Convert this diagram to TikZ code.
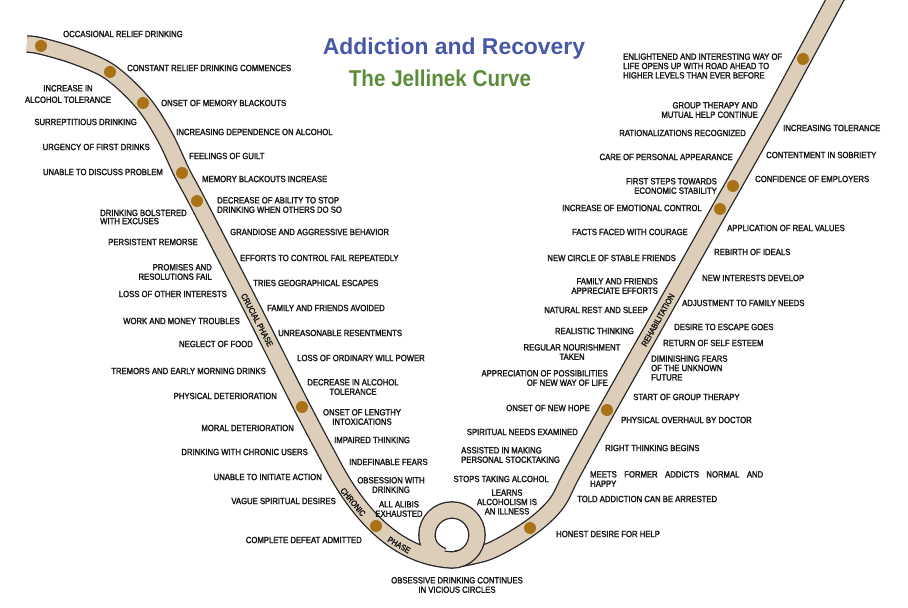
\documentclass[tikz,border=0pt]{standalone}
\usepackage{fontspec}
\newfontfamily\labfont{Liberation Sans}[FakeStretch=0.86,FakeBold=2]
\newfontfamily\titlefont{Liberation Sans}
\newfontfamily\titlenarrow{Liberation Sans}[FakeStretch=0.9]
\definecolor{band}{RGB}{221,206,186}
\definecolor{dotc}{RGB}{168,114,22}
\definecolor{ttlblue}{RGB}{72,88,168}
\definecolor{ttlgreen}{RGB}{92,140,58}
\definecolor{txt}{RGB}{22,22,22}
\begin{document}
\begin{tikzpicture}[x=1bp,y=-1bp,
  lab/.style={font=\labfont\fontsize{9}{9.4}\selectfont, text=txt, inner sep=0pt},
  Le/.style={lab,anchor=east,align=right},
  Ri/.style={lab,anchor=west,align=left},
  Ce/.style={lab,align=center},
  road/.style={line width=1.3bp, draw=black!85, double=band, double distance=15bp},
  dot/.style={circle, fill=dotc, minimum size=12bp, inner sep=0pt},
  phase/.style={lab, font=\labfont\fontsize{8.5}{9}\selectfont}]
\useasboundingbox (0,0) rectangle (908,608);
\clip (0,0) rectangle (908,608);
% dot positions
\coordinate (p1) at (41,46);
\coordinate (p2) at (110,72);
\coordinate (p3) at (143,103);
\coordinate (p4) at (182,173);
\coordinate (p5) at (197,201);
\coordinate (p6) at (302,407);
\coordinate (p7) at (376,526);
\coordinate (p8) at (530,528);
\coordinate (p9) at (607,410);
\coordinate (p10) at (720,209);
\coordinate (p11) at (733,186);
\coordinate (p12) at (803,59);
% right arm (under the loop)
\draw[road] plot[smooth, tension=0.55] coordinates {(456,559) (490,551) (p8) (556,504) (572,474) (p9) (660,316) (p10) (p11) (770,120) (p12) (838,-6)};
% left arm and loop
\draw[road] plot[smooth, tension=0.55] coordinates {(27,44) (p1) (75,56) (p2) (p3) (165,137) (p4) (p5) (250,304) (p6) (330,460)}
  .. controls (352,503) and (390,557) .. (452,560)
  .. controls (465.8,560) and (477,548.8) .. (477,535)
  .. controls (477,521.2) and (465.8,510) .. (452,510)
  .. controls (438.2,510) and (427,521.2) .. (427,535)
  .. controls (427,545) and (432,551) .. (442,556);
% dots
\foreach \i in {1,...,12} \node[dot] (d\i) at (p\i) {};
% phase labels
\node[phase, rotate=-62] (ph1) at (257,320) {CRUCIAL PHASE};
\node[phase, rotate=-50] (ph2) at (353,502) {CHRONIC};
\node[phase, rotate=-30] (ph3) at (399,545) {PHASE};
\node[phase, rotate=60.8] (ph4) at (658,320) {REHABILITATION};
% titles
\node[anchor=base, text=ttlblue, inner sep=0pt, font=\titlefont\bfseries\fontsize{23}{23}\selectfont] (t1) at (454,55) {Addiction and Recovery};
\node[anchor=base, text=ttlgreen, inner sep=0pt, font=\titlenarrow\bfseries\fontsize{23}{23}\selectfont] (t2) at (440,87) {The Jellinek Curve};
% left arm, right side
\node[Ri] (a1) at (63,34) {OCCASIONAL RELIEF DRINKING};
\node[Ri] (a2) at (127,68) {CONSTANT RELIEF DRINKING COMMENCES};
\node[Ri] (a3) at (161,103) {ONSET OF MEMORY BLACKOUTS};
\node[Ri] (a4) at (176,132) {INCREASING DEPENDENCE ON ALCOHOL};
\node[Ri] (a5) at (189,156) {FEELINGS OF GUILT};
\node[Ri] (a6) at (202,179) {MEMORY BLACKOUTS INCREASE};
\node[Ri] (a7) at (217,205) {DECREASE OF ABILITY TO STOP\\DRINKING WHEN OTHERS DO SO};
\node[Ri] (a8) at (230,232) {GRANDIOSE AND AGGRESSIVE BEHAVIOR};
\node[Ri] (a9) at (240,258) {EFFORTS TO CONTROL FAIL REPEATEDLY};
\node[Ri] (a10) at (253,283) {TRIES GEOGRAPHICAL ESCAPES};
\node[Ri] (a11) at (267,308) {FAMILY AND FRIENDS AVOIDED};
\node[Ri] (a12) at (278,333) {UNREASONABLE RESENTMENTS};
\node[Ri] (a13) at (297,358) {LOSS OF ORDINARY WILL POWER};
\node[Ce] (a14) at (353,387) {DECREASE IN ALCOHOL\\TOLERANCE};
\node[Ce] (a15) at (362,417) {ONSET OF LENGTHY\\INTOXICATIONS};
\node[Ri] (a16) at (334,440) {IMPAIRED THINKING};
\node[Ri] (a17) at (349,462) {INDEFINABLE FEARS};
\node[Ce] (a18) at (391,485) {OBSESSION WITH\\DRINKING};
\node[Ce] (a19) at (399,509) {ALL ALIBIS\\EXHAUSTED};
\node[Ce] (a20) at (457,585) {OBSESSIVE DRINKING CONTINUES\\IN VICIOUS CIRCLES};
% left arm, left side
\node[Ce, font=\labfont\fontsize{9}{11.5}\selectfont] (b1) at (68,94) {INCREASE IN\\ALCOHOL TOLERANCE};
\node[Le] (b2) at (137,122) {SURREPTITIOUS DRINKING};
\node[Le] (b3) at (150,147) {URGENCY OF FIRST DRINKS};
\node[Le] (b4) at (163,172) {UNABLE TO DISCUSS PROBLEM};
\node[Ri, font=\labfont\fontsize{9}{8.2}\selectfont] (b5) at (100,217) {DRINKING BOLSTERED\\WITH EXCUSES};
\node[Le] (b6) at (198,242) {PERSISTENT REMORSE};
\node[Le] (b7) at (212,272) {PROMISES AND\\RESOLUTIONS FAIL};
\node[Le] (b8) at (227,294) {LOSS OF OTHER INTERESTS};
\node[Le] (b9) at (240,321) {WORK AND MONEY TROUBLES};
\node[Le] (b10) at (253,344) {NEGLECT OF FOOD};
\node[Le] (b11) at (266,371) {TREMORS AND EARLY MORNING DRINKS};
\node[Le] (b12) at (277,396) {PHYSICAL DETERIORATION};
\node[Le] (b13) at (294,428) {MORAL DETERIORATION};
\node[Le] (b14) at (308,452) {DRINKING WITH CHRONIC USERS};
\node[Le] (b15) at (322,477) {UNABLE TO INITIATE ACTION};
\node[Le] (b16) at (336,501) {VAGUE SPIRITUAL DESIRES};
\node[Le] (b17) at (362,540) {COMPLETE DEFEAT ADMITTED};
% right arm, left side
\node[Ri] (c1) at (623,66) {ENLIGHTENED AND INTERESTING WAY OF\\LIFE OPENS UP WITH ROAD AHEAD TO\\HIGHER LEVELS THAN EVER BEFORE};
\node[Le] (c2) at (758,110) {GROUP THERAPY AND\\MUTUAL HELP CONTINUE};
\node[Le] (c3) at (746,133) {RATIONALIZATIONS RECOGNIZED};
\node[Le] (c4) at (733,157) {CARE OF PERSONAL APPEARANCE};
\node[Le] (c5) at (717,186) {FIRST STEPS TOWARDS\\ECONOMIC STABILITY};
\node[Le] (c6) at (702,208) {INCREASE OF EMOTIONAL CONTROL};
\node[Le] (c7) at (688,232) {FACTS FACED WITH COURAGE};
\node[Le] (c8) at (676,258) {NEW CIRCLE OF STABLE FRIENDS};
\node[Le] (c9) at (658,286) {FAMILY AND FRIENDS\\APPRECIATE EFFORTS};
\node[Le] (c10) at (648,310) {NATURAL REST AND SLEEP};
\node[Le] (c11) at (634,331) {REALISTIC THINKING};
\node[Ce] (c12) at (572,352) {REGULAR NOURISHMENT\\TAKEN};
\node[Le] (c13) at (608,378) {APPRECIATION OF POSSIBILITIES\\OF NEW WAY OF LIFE};
\node[Le] (c14) at (590,408) {ONSET OF NEW HOPE};
\node[Le] (c15) at (578,432) {SPIRITUAL NEEDS EXAMINED};
\node[Ri] (c16) at (461,455) {ASSISTED IN MAKING\\PERSONAL STOCKTAKING};
\node[Le] (c17) at (549,479) {STOPS TAKING ALCOHOL};
\node[Ce] (c18) at (507,502) {LEARNS\\ALCOHOLISM IS\\AN ILLNESS};
% right arm, right side
\node[Ri] (e1) at (783,128) {INCREASING TOLERANCE};
\node[Ri] (e2) at (766,155) {CONTENTMENT IN SOBRIETY};
\node[Ri] (e3) at (755,179) {CONFIDENCE OF EMPLOYERS};
\node[Ri] (e4) at (727,228) {APPLICATION OF REAL VALUES};
\node[Ri] (e5) at (714,252) {REBIRTH OF IDEALS};
\node[Ri] (e6) at (702,278) {NEW INTERESTS DEVELOP};
\node[Ri] (e7) at (682,303) {ADJUSTMENT TO FAMILY NEEDS};
\node[Ri] (e8) at (674,327) {DESIRE TO ESCAPE GOES};
\node[Ri] (e9) at (663,343) {RETURN OF SELF ESTEEM};
\node[Ri] (e10) at (651,368) {DIMINISHING FEARS\\OF THE UNKNOWN\\FUTURE};
\node[Ri] (e11) at (633,397) {START OF GROUP THERAPY};
\node[Ri] (e12) at (621,420) {PHYSICAL OVERHAUL BY DOCTOR};
\node[Ri] (e13) at (605,448) {RIGHT THINKING BEGINS};
\node[Ri] (e14) at (590,479) {\makebox[173bp][s]{MEETS FORMER ADDICTS NORMAL AND}\\HAPPY};
\node[Ri] (e15) at (577,499) {TOLD ADDICTION CAN BE ARRESTED};
\node[Ri] (e16) at (556,534) {HONEST DESIRE FOR HELP};
\end{tikzpicture}
\end{document}
